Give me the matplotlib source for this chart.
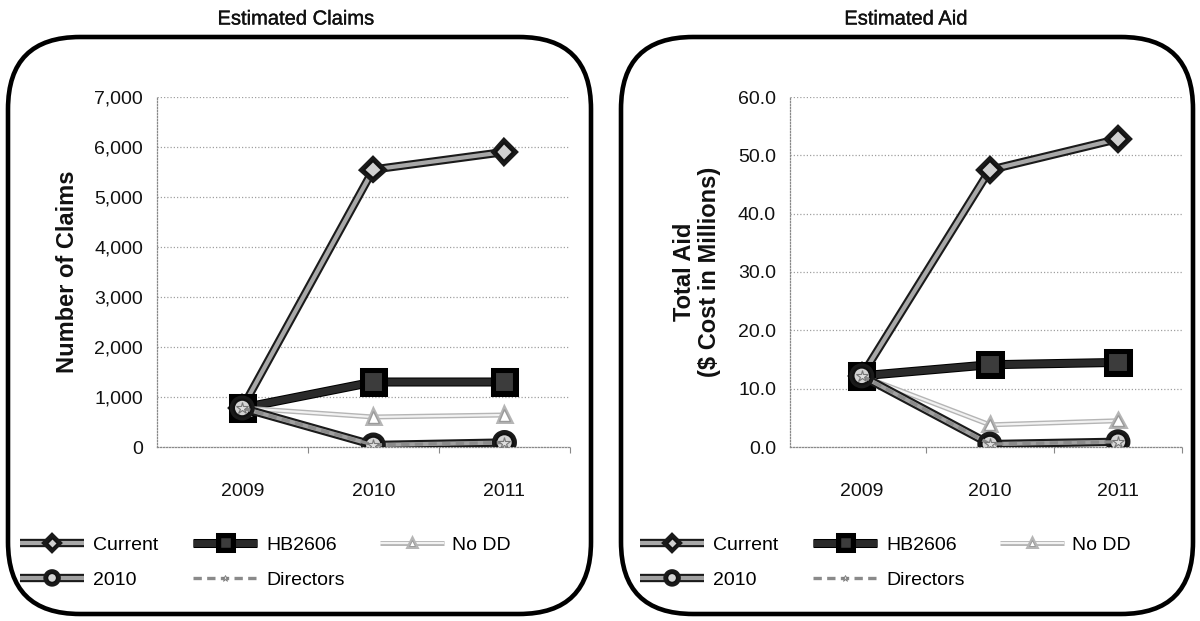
import matplotlib
matplotlib.use("Agg")
import matplotlib.pyplot as plt
import matplotlib.patheffects as pe
from matplotlib.patches import FancyBboxPatch
from matplotlib.lines import Line2D
from matplotlib.ticker import FuncFormatter, FixedLocator
import numpy as np

plt.rcParams['font.family'] = ['Liberation Sans', 'DejaVu Sans']

years = ["2009", "2010", "2011"]
series_names = ["Current", "HB2606", "No DD", "2010", "Directors"]

claims_current = [780, 5550, 5900]
claims_hb2606 = [780, 1300, 1300]
claims_nodd = [780, 600, 640]
claims_2010 = [780, 40, 90]
claims_directors = [780, 40, 90]

aid_current = [12.2, 47.5, 52.8]
aid_hb2606 = [12.2, 14.1, 14.5]
aid_nodd = [12.2, 3.8, 4.5]
aid_2010 = [12.2, 0.5, 0.9]
aid_directors = [12.2, 0.5, 0.9]

W, H = 1200, 621
fig = plt.figure(figsize=(W / 100, H / 100), dpi=100)
fig.patch.set_facecolor("white")

title_ink = [pe.Stroke(linewidth=0.25, foreground="#111111"), pe.Normal()]


def px_rect(x0, y0, x1, y1):
    """Pixel box (top-left origin) -> figure fraction [left, bottom, width, height]."""
    return [x0 / W, 1 - y1 / H, (x1 - x0) / W, (y1 - y0) / H]


# rounded frames around each chart
for bx0, bx1 in [(8, 591), (621, 1193)]:
    by0, by1 = 37, 614
    frame = FancyBboxPatch((bx0 / W, 1 - by1 / H), (bx1 - bx0) / W, (by1 - by0) / H,
                           boxstyle="round,pad=0,rounding_size=0.06",
                           transform=fig.transFigure, fill=False,
                           edgecolor="black", linewidth=3.3,
                           mutation_aspect=W / H, zorder=0)
    fig.patches.append(frame)

styles = {
    "Current": dict(color="#a8a8a8", lw=3.0, outline="#1a1a1a", olw=6.0,
                    marker="D", ms=9, mfc="#d0d0d0", mec="#111111", mew=1.5, ls="-"),
    "HB2606": dict(color="#2a2a2a", lw=5.0, outline="#000000", olw=6.5,
                   marker="s", ms=14, mfc="#3c3c3c", mec="#000000", mew=1.5, ls="-"),
    "No DD": dict(color="#f2f2f2", lw=1.6, outline="#b5b5b5", olw=3.6,
                  marker="^", ms=8, mfc="#ffffff", mec="#9a9a9a", mew=1.0, ls="-"),
    "2010": dict(color="#a0a0a0", lw=3.0, outline="#1a1a1a", olw=6.0,
                 marker="o", ms=12, mfc="#d4d4d4", mec="#111111", mew=1.6, ls="-"),
    "Directors": dict(color="#8a8a8a", lw=2.4, outline=None, olw=0,
                      marker="*", ms=9, mfc="#e0e0e0", mec="#777777", mew=0.8, ls=(0, (2.5, 1.6))),
}


def effects_for(st):
    if st["outline"]:
        return [pe.Stroke(linewidth=st["olw"], foreground=st["outline"]), pe.Normal()]
    return []


def draw_panel(rect, xlo, data, ymax, ystep, fmt, ylabel, ylabel_x, legend_x):
    ax = fig.add_axes(rect)
    x = np.arange(len(years))
    proxies = []
    for name, vals in zip(series_names, data):
        st = styles[name]
        ax.plot(x, vals, color=st["color"], lw=st["lw"], ls=st["ls"],
                marker=st["marker"], ms=st["ms"], mfc=st["mfc"], mec=st["mec"],
                mew=st["mew"], path_effects=effects_for(st), label=name,
                solid_capstyle="butt", zorder=3)
        proxies.append(Line2D([], [], color=st["color"], lw=st["lw"], ls=st["ls"],
                              marker=st["marker"], ms=st["ms"] * 0.55, mfc=st["mfc"],
                              mec=st["mec"], mew=st["mew"] * 0.7,
                              path_effects=effects_for(st), solid_capstyle="butt"))

    ax.set_xlim(xlo, len(years) - 0.5)
    ax.set_ylim(0, ymax)
    ax.set_yticks(np.arange(0, ymax + ystep / 2, ystep))
    ax.yaxis.set_major_formatter(FuncFormatter(fmt))
    ax.set_xticks(x)
    ax.set_xticklabels(years)
    ax.xaxis.set_minor_locator(FixedLocator([0.5, 1.5, 2.5]))
    ax.tick_params(axis="x", which="major", length=0, pad=26, labelsize=14, colors="#111111")
    ax.tick_params(axis="x", which="minor", length=4, width=0.8, color="#888888")
    ax.tick_params(axis="y", length=0, pad=10, labelsize=14, colors="#111111")

    ax.grid(axis="y", color="#a0a0a0", linestyle=(0, (1.0, 1.6)), linewidth=0.9)
    ax.set_axisbelow(True)
    for s in ("top", "right"):
        ax.spines[s].set_visible(False)
    for s in ("left", "bottom"):
        ax.spines[s].set_color("#8a8a8a")
        ax.spines[s].set_linestyle((0, (1.0, 1.4)))
        ax.spines[s].set_linewidth(0.9)

    fig.text(ylabel_x / W, 1 - ((rect_px_top + rect_px_bot) / 2) / H, ylabel,
             rotation=90, ha="center", va="center", fontsize=17,
             fontweight="bold", linespacing=1.1, color="#111111")

    order = [0, 3, 1, 4, 2]
    fig.legend([proxies[i] for i in order], [series_names[i] for i in order],
               loc="upper left", bbox_to_anchor=(legend_x / W, 1 - 536 / H),
               ncol=3, frameon=False, fontsize=14, handlelength=3.3,
               handletextpad=0.45, columnspacing=1.8, labelspacing=0.9,
               borderaxespad=0, borderpad=0)
    return ax


rect_px_top, rect_px_bot = 97, 447

draw_panel(px_rect(157, rect_px_top, 570, rect_px_bot), -0.65,
           [claims_current, claims_hb2606, claims_nodd, claims_2010, claims_directors],
           7000, 1000, lambda v, p: f"{v:,.0f}", "Number of Claims", 67, 20)

draw_panel(px_rect(790, rect_px_top, 1182, rect_px_bot), -0.56,
           [aid_current, aid_hb2606, aid_nodd, aid_2010, aid_directors],
           60, 10, lambda v, p: f"{v:.1f}", "Total Aid\n($ Cost in Millions)", 697, 640)

for cx, title in [(296, "Estimated Claims"), (906, "Estimated Aid")]:
    fig.text(cx / W, 1 - 19 / H, title, ha="center", va="center",
             fontsize=14.5, color="#111111", path_effects=title_ink)

fig.savefig("out.png", dpi=100, facecolor="white")
